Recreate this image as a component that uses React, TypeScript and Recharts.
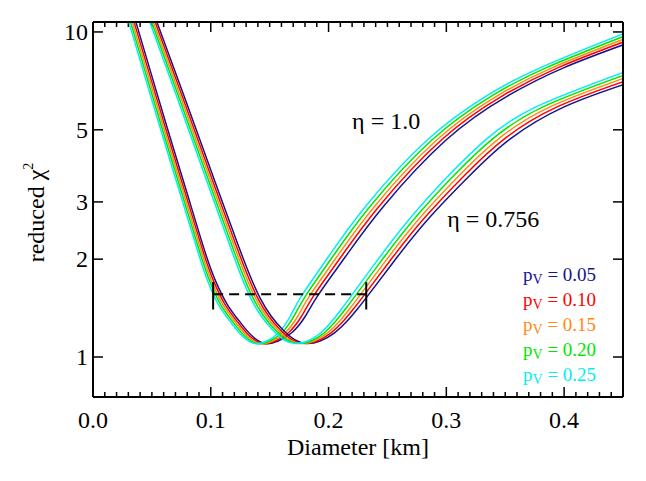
import React from 'react';
import { LineChart, Line, XAxis, YAxis, ReferenceDot, ReferenceLine, Legend } from 'recharts';

// ---------- data (diameter [km], reduced chi^2) ----------
type Pt = [number, number];

// eta = 1.0 family
const eta100_pv005: Pt[] = [[0.0296,13],[0.0365,10.7],[0.0628,5.1],[0.079,3.27],[0.0952,2.10],[0.1045,1.70],[0.1138,1.455],[0.1249,1.28],[0.1351,1.16],[0.1461,1.10],[0.1572,1.12],[0.169,1.19],[0.180,1.33],[0.1911,1.55],[0.2141,2.03],[0.2464,2.9],[0.300,4.66],[0.3518,6.35],[0.400,7.77],[0.452,9.18]];
const eta100_pv010: Pt[] = [[0.0281,13],[0.0350,10.7],[0.0613,5.1],[0.0775,3.27],[0.0937,2.10],[0.1028,1.70],[0.1119,1.455],[0.1229,1.28],[0.1330,1.16],[0.1439,1.10],[0.1548,1.12],[0.1662,1.19],[0.1768,1.33],[0.1877,1.55],[0.2105,2.03],[0.2426,2.9],[0.296,4.66],[0.3473,6.35],[0.395,7.77],[0.452,9.36]];
const eta100_pv015: Pt[] = [[0.0266,13],[0.0335,10.7],[0.0598,5.1],[0.076,3.27],[0.0922,2.10],[0.1011,1.70],[0.1100,1.455],[0.1209,1.28],[0.1309,1.16],[0.1417,1.10],[0.1524,1.12],[0.1634,1.19],[0.1736,1.33],[0.1843,1.55],[0.2069,2.03],[0.2388,2.9],[0.292,4.66],[0.3428,6.35],[0.390,7.77],[0.452,9.55]];
const eta100_pv020: Pt[] = [[0.0251,13],[0.0320,10.7],[0.0583,5.1],[0.0745,3.27],[0.0907,2.10],[0.0994,1.70],[0.1081,1.455],[0.1189,1.28],[0.1288,1.16],[0.1395,1.10],[0.1500,1.12],[0.1606,1.19],[0.1704,1.33],[0.1809,1.55],[0.2033,2.03],[0.2350,2.9],[0.288,4.66],[0.3383,6.35],[0.385,7.77],[0.452,9.74]];
const eta100_pv025: Pt[] = [[0.0236,13],[0.0305,10.7],[0.0568,5.1],[0.073,3.27],[0.0892,2.10],[0.0977,1.70],[0.1062,1.455],[0.1169,1.28],[0.1267,1.16],[0.1373,1.10],[0.1476,1.12],[0.1578,1.19],[0.1672,1.33],[0.1775,1.55],[0.1997,2.03],[0.2312,2.9],[0.284,4.66],[0.3338,6.35],[0.380,7.77],[0.452,9.94]];

// eta = 0.756 family
const eta0756_pv005: Pt[] = [[0.046,13],[0.0544,10.7],[0.080,5.97],[0.1062,3.26],[0.1232,2.21],[0.1334,1.775],[0.1419,1.518],[0.1512,1.337],[0.1614,1.21],[0.1716,1.128],[0.1818,1.10],[0.1929,1.12],[0.2048,1.185],[0.2158,1.29],[0.2252,1.415],[0.2337,1.55],[0.2583,2.03],[0.2863,2.70],[0.3203,3.63],[0.3543,4.69],[0.400,5.88],[0.452,6.92]];
const eta0756_pv010: Pt[] = [[0.0445,13],[0.0529,10.7],[0.0784,5.97],[0.1045,3.26],[0.1214,2.21],[0.1315,1.775],[0.1399,1.518],[0.1491,1.337],[0.1592,1.21],[0.1693,1.128],[0.1794,1.10],[0.1903,1.12],[0.2019,1.185],[0.2126,1.29],[0.2218,1.415],[0.2302,1.55],[0.2546,2.03],[0.2823,2.70],[0.3158,3.63],[0.3493,4.69],[0.394,5.88],[0.452,7.07]];
const eta0756_pv015: Pt[] = [[0.043,13],[0.0514,10.7],[0.0768,5.97],[0.1028,3.26],[0.1196,2.21],[0.1296,1.775],[0.1379,1.518],[0.1470,1.337],[0.1570,1.21],[0.1670,1.128],[0.1770,1.10],[0.1877,1.12],[0.1990,1.185],[0.2094,1.29],[0.2184,1.415],[0.2267,1.55],[0.2509,2.03],[0.2783,2.70],[0.3113,3.63],[0.3443,4.69],[0.388,5.88],[0.452,7.23]];
const eta0756_pv020: Pt[] = [[0.0415,13],[0.0499,10.7],[0.0752,5.97],[0.1011,3.26],[0.1178,2.21],[0.1277,1.775],[0.1359,1.518],[0.1449,1.337],[0.1548,1.21],[0.1647,1.128],[0.1746,1.10],[0.1851,1.12],[0.1961,1.185],[0.2062,1.29],[0.2150,1.415],[0.2232,1.55],[0.2472,2.03],[0.2743,2.70],[0.3068,3.63],[0.3393,4.69],[0.382,5.88],[0.452,7.39]];
const eta0756_pv025: Pt[] = [[0.040,13],[0.0484,10.7],[0.0736,5.97],[0.0994,3.26],[0.1160,2.21],[0.1258,1.775],[0.1339,1.518],[0.1428,1.337],[0.1526,1.21],[0.1624,1.128],[0.1722,1.10],[0.1825,1.12],[0.1932,1.185],[0.2030,1.29],[0.2116,1.415],[0.2197,1.55],[0.2435,2.03],[0.2703,2.70],[0.3023,3.63],[0.3343,4.69],[0.376,5.88],[0.452,7.55]];

// albedo labels
const pvLabels = ['0.05', '0.10', '0.15', '0.20', '0.25'];

// diameter range bar (dashed) at chi^2 level
const rangeDiam: number[] = [0.102, 0.232];
const rangeChi2 = 1.56;
const rangeCap: number[] = [1.40, 1.70];

// annotations
const etaLabels = [
  { text: '\u03b7 = 1.0', d: 0.220, v: 5.03 },
  { text: '\u03b7 = 0.756', d: 0.3008, v: 2.51 },
];

// axes
const xDomain: [number, number] = [0, 0.45];
const yDomain: [number, number] = [0.7533, 10.73];
const xMajorTicks = [0, 0.1, 0.2, 0.3, 0.4];
const xTickLabels = ['0.0', '0.1', '0.2', '0.3', '0.4'];
const xMinorTicks = Array.from({ length: 46 }, (_, i) => i / 100);
const yTicks = [1, 2, 3, 5, 10];
const yTickLabels = ['1', '2', '3', '5', '10'];

// ---------- styles / geometry ----------
const SERIF = "'Liberation Serif', 'Times New Roman', Times, serif";
const pvColors = ['#14148c', '#ff0000', '#ff8a14', '#00e600', '#00eeee'];
const families: Pt[][][] = [
  [eta100_pv005, eta100_pv010, eta100_pv015, eta100_pv020, eta100_pv025],
  [eta0756_pv005, eta0756_pv010, eta0756_pv015, eta0756_pv020, eta0756_pv025],
];
const AX = 0.01; // near-zero axis band thickness
const CHART_W = 638;
const CHART_H = 473;
const MARGIN = { top: 14, right: 23, bottom: 84, left: 85 };
const PLOT_W = CHART_W - MARGIN.left - MARGIN.right;
const PLOT_H = CHART_H - MARGIN.top - MARGIN.bottom;
const MAJOR_PX = 10;
const MINOR_PX = 5;
const TICK_W = 1.5;

// tick-length helpers (pixel length -> data units)
const decadesPerPx = Math.log10(yDomain[1] / yDomain[0]) / PLOT_H;
const yUp = (v: number, px: number) => v * Math.pow(10, px * decadesPerPx);
const yDown = (v: number, px: number) => v / Math.pow(10, px * decadesPerPx);
const xPerPx = (xDomain[1] - xDomain[0]) / PLOT_W;

const toRows = (pts: Pt[]) => pts.map(([d, v]) => ({ d, v }));

const XTick = (props: any) => {
  const i = xMajorTicks.indexOf(props.payload.value);
  return (
    <text x={props.x} y={props.y + 41} textAnchor="middle" style={{ fontFamily: SERIF, fontSize: 24 }} fill="#000">
      {xTickLabels[i]}
    </text>
  );
};
const YTick = (props: any) => {
  const i = yTicks.indexOf(props.payload.value);
  return (
    <text x={props.x - 15} y={props.y + 8} textAnchor="end" style={{ fontFamily: SERIF, fontSize: 24 }} fill="#000">
      {yTickLabels[i]}
    </text>
  );
};

const XTitle = (props: any) => {
  const vb = props.viewBox;
  return (
    <text x={vb.x + vb.width / 2} y={vb.y + 58} textAnchor="middle" style={{ fontFamily: SERIF, fontSize: 24 }} fill="#000">
      Diameter [km]
    </text>
  );
};
const YTitle = (props: any) => {
  const vb = props.viewBox;
  const cx = 35.5;
  const cy = vb.y + vb.height / 2 + 3;
  return (
    <text x={cx} y={cy} transform={`rotate(-90 ${cx} ${cy})`} textAnchor="middle" style={{ fontFamily: SERIF, fontSize: 24 }} fill="#000">
      reduced {'\u03c7'}
      <tspan style={{ fontSize: 14 }} dy={-11}>2</tspan>
    </text>
  );
};

const LegendBox = () => (
  <div style={{ fontFamily: SERIF, fontSize: 19, lineHeight: '25px' }}>
    {pvLabels.map((l, i) => (
      <div key={l} style={{ color: pvColors[i], whiteSpace: 'nowrap', height: 25 }}>
        p<span style={{ fontSize: 14, position: 'relative', top: 3, lineHeight: 0 }}>V</span> = {l}
      </div>
    ))}
  </div>
);

const axisLineStyle = { stroke: '#000', strokeWidth: 2 };

// inward tick marks on all four sides
const tickSegments: { key: string; seg: [{ x: number; y: number }, { x: number; y: number }] }[] = [];
xMinorTicks.forEach((t, i) => {
  const len = xMajorTicks.some((m) => Math.abs(m - t) < 1e-9) ? MAJOR_PX : MINOR_PX;
  if (t <= xDomain[0] || t >= xDomain[1]) return;
  tickSegments.push({ key: `xb${i}`, seg: [{ x: t, y: yDomain[0] }, { x: t, y: yUp(yDomain[0], len) }] });
  tickSegments.push({ key: `xt${i}`, seg: [{ x: t, y: yDomain[1] }, { x: t, y: yDown(yDomain[1], len) }] });
});
yTicks.forEach((t, i) => {
  tickSegments.push({ key: `yl${i}`, seg: [{ x: xDomain[0], y: t }, { x: xDomain[0] + MAJOR_PX * xPerPx, y: t }] });
  tickSegments.push({ key: `yr${i}`, seg: [{ x: xDomain[1], y: t }, { x: xDomain[1] - MAJOR_PX * xPerPx, y: t }] });
});

export default function App() {
  return (
    <LineChart width={CHART_W} height={CHART_H} margin={MARGIN}>
      <XAxis
        dataKey="d"
        type="number"
        domain={xDomain}
        allowDataOverflow
        ticks={xMajorTicks}
        interval={0}
        height={AX}
        mirror
        tickSize={MAJOR_PX}
        tickMargin={0}
        tick={XTick}
        tickLine={false}
        axisLine={axisLineStyle}
        label={<XTitle />}
      />
      <XAxis xAxisId="xtop" orientation="top" type="number" domain={xDomain} allowDataOverflow ticks={xMajorTicks} interval={0} height={AX} mirror tick={false} tickLine={false} axisLine={axisLineStyle} />
      <YAxis
        type="number"
        scale="log"
        domain={yDomain}
        allowDataOverflow
        ticks={yTicks}
        interval={0}
        width={AX}
        mirror
        tickSize={MAJOR_PX}
        tickMargin={0}
        tick={YTick}
        tickLine={false}
        axisLine={axisLineStyle}
        label={<YTitle />}
      />
      <YAxis yAxisId="yright" orientation="right" type="number" scale="log" domain={yDomain} allowDataOverflow ticks={yTicks} interval={0} width={AX} mirror tick={false} tickLine={false} axisLine={axisLineStyle} />

      {tickSegments.map((t) => (
        <ReferenceLine key={t.key} segment={t.seg} stroke="#000" strokeWidth={TICK_W} ifOverflow="visible" />
      ))}

      {families.map((fam, fi) =>
        fam.map((pts, ci) => (
          <Line
            key={`f${fi}c${ci}`}
            data={toRows(pts)}
            dataKey="v"
            type="natural"
            stroke={pvColors[ci]}
            strokeWidth={1.5}
            dot={false}
            legendType="none"
            isAnimationActive={false}
          />
        ))
      )}

      <Line
        data={rangeDiam.map((d) => ({ d, v: rangeChi2 }))}
        dataKey="v"
        type="linear"
        stroke="#000"
        strokeWidth={2}
        strokeDasharray="10 6"
        dot={false}
        legendType="none"
        isAnimationActive={false}
      />
      {rangeDiam.map((d) => (
        <Line
          key={`cap${d}`}
          data={rangeCap.map((v) => ({ d, v }))}
          dataKey="v"
          type="linear"
          stroke="#000"
          strokeWidth={2}
          dot={false}
          legendType="none"
          isAnimationActive={false}
        />
      ))}

      {etaLabels.map((a) => (
        <ReferenceDot
          key={a.text}
          x={a.d}
          y={a.v}
          r={0}
          ifOverflow="visible"
          shape={(p: any) => (
            <text x={p.cx} y={p.cy} textAnchor="start" style={{ fontFamily: SERIF, fontSize: 24 }} fill="#000">
              {a.text}
            </text>
          )}
        />
      ))}

      <Legend
        layout="vertical"
        align="center"
        verticalAlign="middle"
        content={<LegendBox />}
        wrapperStyle={{ left: 515, top: 254, width: 'auto' }}
      />
    </LineChart>
  );
}
